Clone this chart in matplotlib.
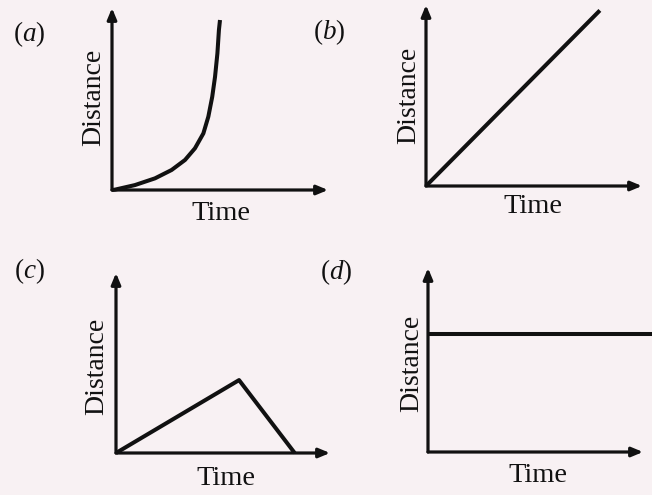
import matplotlib
matplotlib.use("Agg")
import matplotlib.pyplot as plt

# ---- data (time / distance units, axes run 0..10) ----
panel_labels = ["a", "b", "c", "d"]

time_a = [0.0, 0.14, 1.06, 1.99, 2.76, 3.38, 3.84, 4.23, 4.46, 4.64, 4.77, 4.88, 4.95, 5.0]
dist_a = [0.0, 0.02, 0.27, 0.64, 1.10, 1.65, 2.29, 3.11, 4.03, 5.12, 6.22, 7.51, 8.79, 9.34]

time_b = [0.0, 8.05]
dist_b = [0.0, 9.7]

time_c = [0.0, 5.75, 8.35]
dist_c = [0.0, 4.05, 0.0]

time_d = [0.0, 10.5]
dist_d = [6.4, 6.4]

x_title = "Time"
y_title = "Distance"

W, H = 652, 495
BG = "#f8f1f3"
INK = "#111111"

plt.rcParams["font.family"] = ["Liberation Serif", "DejaVu Serif"]
plt.rcParams["mathtext.fontset"] = "custom"
plt.rcParams["mathtext.it"] = "Liberation Serif:italic"
plt.rcParams["mathtext.rm"] = "Liberation Serif"

fig = plt.figure(figsize=(W / 100, H / 100), dpi=100, facecolor=BG)


def px_axes(x0, y0, x1, y1):
    """Axes whose lower-left is the origin (x0, y0) and upper-right the arrow tips, in pixels from top-left."""
    return fig.add_axes([x0 / W, (H - y0) / H, (x1 - x0) / W, (y0 - y1) / H])


def fig_xy(x, y):
    return x / W, (H - y) / H


# pixel boxes: origin x, origin y, x-arrow tip, y-arrow tip
boxes = [
    (112, 190, 328, 8),
    (426, 186, 642, 5),
    (116, 453, 330, 273),
    (428, 452, 643, 268),
]
series = [(time_a, dist_a), (time_b, dist_b), (time_c, dist_c), (time_d, dist_d)]
tag_pos = [(29, 34), (329, 32), (29, 271), (336, 272)]
ylab_pos = [(100, 97), (415, 95), (103, 366), (418, 363)]
xlab_pos = [(221, 220), (533, 213), (226, 485), (538, 482)]

for box, (t, d), tag, tp, yp, xp in zip(boxes, series, panel_labels, tag_pos, ylab_pos, xlab_pos):
    ax = px_axes(*box)
    ax.set_xlim(0, 10)
    ax.set_ylim(0, 10)
    ax.axis("off")
    arrow = dict(arrowstyle="-|>,head_length=0.6,head_width=0.25", lw=2.3,
                 color=INK, shrinkA=0, shrinkB=0, mutation_scale=11)
    ax.annotate("", xy=(10, 0), xytext=(0, 0), arrowprops=arrow, annotation_clip=False)
    ax.annotate("", xy=(0, 10), xytext=(0, 0), arrowprops=arrow, annotation_clip=False)
    ax.plot(t, d, color=INK, lw=2.9, solid_joinstyle="round", solid_capstyle="butt", clip_on=False)

    fx, fy = fig_xy(*tp)
    fig.text(fx, fy, "($\\mathit{" + tag + "}$)", fontsize=19.5, color=INK, ha="center", va="center")
    fx, fy = fig_xy(*yp)
    fig.text(fx, fy, y_title, fontsize=20, color=INK, rotation=90, rotation_mode="anchor",
             ha="center", va="baseline")
    fx, fy = fig_xy(*xp)
    fig.text(fx, fy, x_title, fontsize=20.5, color=INK, ha="center", va="baseline")

fig.savefig("out.png", dpi=100, facecolor=BG)
